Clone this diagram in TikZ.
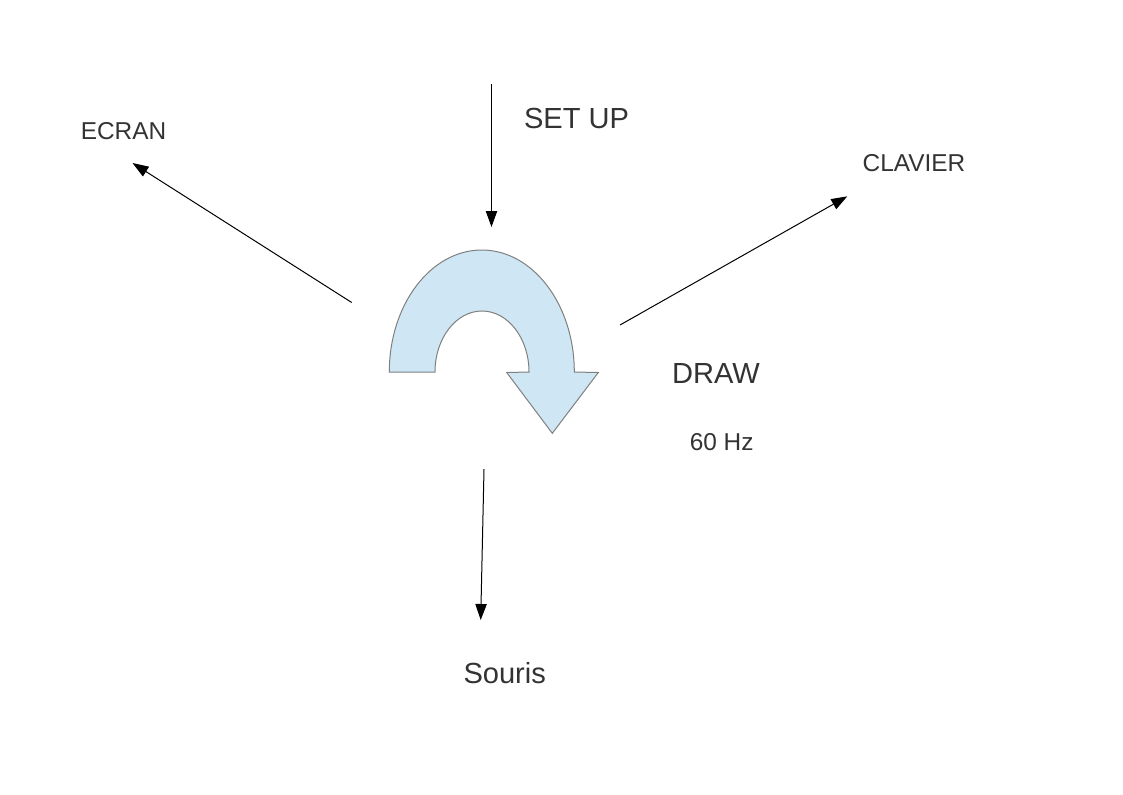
\documentclass[tikz,border=0pt]{standalone}
\usepackage{fontspec}
\setmainfont{Liberation Sans}
\usetikzlibrary{arrows.meta}

\definecolor{TextGray}{HTML}{333333}
\definecolor{LoopFill}{HTML}{CFE7F5}
\definecolor{LoopLine}{HTML}{7F7F7F}

\tikzset{
  BigLabel/.style={anchor=base, text=TextGray, inner sep=0pt,
    font=\fontsize{21.8}{26}\selectfont},
  SmallLabel/.style={anchor=base, text=TextGray, inner sep=0pt,
    font=\fontsize{18.3}{22}\selectfont},
  Link/.style={line width=0.75pt, -{Triangle[length=12pt, width=8.5pt]}}
}

\begin{document}
\begin{tikzpicture}[x=0.75pt, y=-0.75pt]
    \useasboundingbox (0,0) rectangle (1123,794);

    \node[BigLabel] (SetUp) at (576.5,128.3) {SET UP};
    \node[SmallLabel] (Ecran) at (123.5,139) {ECRAN};
    \node[SmallLabel] (Clavier) at (914,171.7) {CLAVIER};
    \node[BigLabel] (Draw) at (716,383.3) {DRAW};
    \node[SmallLabel] (Freq) at (721.7,450) {60 Hz};
    \node[BigLabel] (Souris) at (504.7,683.3) {Souris};

    \coordinate (SetUpFrom) at (491.5,83.5);
    \coordinate (SetUpTo) at (491.5,227);
    \coordinate (EcranFrom) at (351.7,302.5);
    \coordinate (EcranTo) at (132.5,163);
    \coordinate (ClavierFrom) at (620,325);
    \coordinate (ClavierTo) at (847.3,196.3);
    \coordinate (SourisFrom) at (484,469);
    \coordinate (SourisTo) at (480.7,620);

    \fill[LoopFill, draw=LoopLine, line width=0.75pt, line join=miter]
      (389.3,372) arc[start angle=180, end angle=360, x radius=92.5, y radius=122]
      -- (598.3,372.5) -- (552.3,433.3) -- (506.7,372.5) -- (529,372)
      arc[start angle=0, end angle=-180, x radius=47, y radius=61]
      -- cycle;

    \draw[Link] (SetUpFrom) -- (SetUpTo);
    \draw[Link] (EcranFrom) -- (EcranTo);
    \draw[Link] (ClavierFrom) -- (ClavierTo);
    \draw[Link] (SourisFrom) -- (SourisTo);
\end{tikzpicture}
\end{document}
